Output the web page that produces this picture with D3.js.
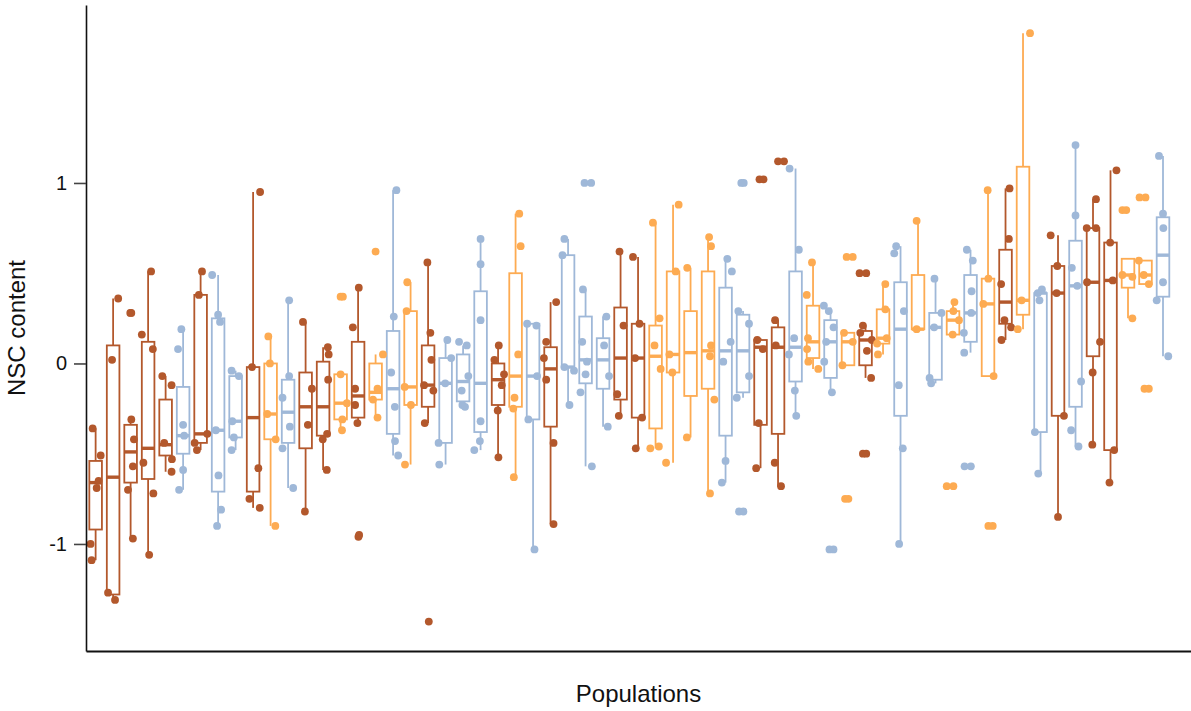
<!DOCTYPE html>
<html>
<head>
<meta charset="utf-8">
<script src="https://cdn.jsdelivr.net/npm/d3@7"></script>
<style>
  body { margin: 0; background: #fff; }
  text { font-family: "Liberation Sans", Arial, sans-serif; }
</style>
</head>
<body>
<div class="chart-wrapper"></div>
<script>
// population groups, ordered by median (B = brown, O = orange, L = light blue)
const groups = ["B","B","B","B","B","L","B","L","L","B","O","L","B","B","O","B","O","L","O","B","L",
  "L","L","B","O","L","B","L","L","L","B","B","O","O","O","O","L","L","B","B","L","O",
  "L","O","B","O","L","O","L","O","L","O","B","O","L","B","L","B","B","O","O","L"];

const lows = [-1.09,-1.30,-0.97,-1.06,-0.60,-0.70,-0.48,-0.90,-0.48,-0.80,-0.90,-0.69,-0.82,-0.59,-0.37,-0.33,-0.30,-0.51,-0.56,-0.33,-0.56,
  -0.24,-0.48,-0.52,-0.63,-1.03,-0.89,-0.23,-0.57,-0.35,-0.29,-0.47,-0.47,-0.55,-0.41,-0.72,-0.66,-0.19,-0.58,-0.68,-0.29,-0.03,
  -0.16,-0.01,-0.08,0.05,-1.00,0.19,-0.11,0.16,0.06,-0.07,0.13,0.19,-0.61,-0.85,-0.46,-0.45,-0.66,0.25,0.44,0.04];

const q1s = [-0.92,-1.28,-0.66,-0.64,-0.51,-0.50,-0.44,-0.71,-0.41,-0.71,-0.42,-0.44,-0.47,-0.40,-0.31,-0.30,-0.20,-0.39,-0.23,-0.24,-0.44,
  -0.21,-0.38,-0.23,-0.24,-0.31,-0.35,-0.02,-0.11,-0.14,-0.20,-0.30,-0.36,-0.05,-0.18,-0.14,-0.40,-0.16,-0.34,-0.39,-0.10,0.03,
  -0.08,-0.01,-0.01,0.11,-0.29,0.19,-0.09,0.16,0.12,-0.07,0.22,0.27,-0.38,-0.29,-0.24,0.04,-0.48,0.42,0.44,0.37];

const medians = [-0.66,-0.63,-0.49,-0.47,-0.45,-0.40,-0.39,-0.37,-0.32,-0.30,-0.28,-0.27,-0.24,-0.24,-0.22,-0.18,-0.16,-0.14,-0.13,-0.12,-0.11,
  -0.10,-0.11,-0.09,-0.07,-0.07,-0.03,-0.02,0.02,0.02,0.03,0.03,0.04,0.05,0.06,0.07,0.07,0.07,0.09,0.09,0.09,0.12,
  0.12,0.12,0.13,0.14,0.19,0.19,0.20,0.24,0.28,0.33,0.34,0.35,0.39,0.39,0.43,0.45,0.46,0.49,0.49,0.60];

const q3s = [-0.54,0.10,-0.34,0.12,-0.20,-0.13,0.38,0.25,-0.07,-0.02,0.00,-0.09,-0.05,0.01,-0.06,0.12,0.00,0.18,0.29,0.10,0.03,
  0.05,0.40,0.00,0.50,0.22,0.09,0.60,0.26,0.14,0.31,0.22,0.21,0.51,0.29,0.51,0.42,0.27,0.13,0.20,0.51,0.32,
  0.24,0.17,0.18,0.30,0.45,0.49,0.28,0.29,0.49,0.47,0.63,1.09,0.39,0.54,0.68,0.75,0.67,0.58,0.57,0.81];

const highs = [-0.36,0.36,-0.31,0.51,-0.07,0.19,0.51,0.49,-0.04,0.95,0.15,0.35,0.23,0.09,-0.06,0.42,0.05,0.96,0.45,0.56,0.13,
  0.10,0.69,0.10,0.83,0.22,0.34,0.69,0.41,0.26,0.62,0.59,0.78,0.88,0.53,0.70,0.58,0.29,0.14,0.24,1.08,0.56,
  0.31,0.17,0.21,0.44,0.65,0.79,0.47,0.34,0.63,0.96,0.97,1.83,0.41,0.71,1.21,0.91,1.07,0.58,0.57,1.15];

// individual observations per population: [jitter (category units), NSC value]
const points = [
  [[-0.17,-0.36],[0.29,-0.51],[0.17,-0.65],[0.06,-0.69],[-0.29,-1.0],[-0.23,-1.09]],
  [[0.29,0.36],[-0.06,0.02],[-0.29,-1.27],[0.11,-1.31]],
  [[-0.02,0.28],[0.04,0.28],[0.04,-0.31],[0.19,-0.42],[0.13,-0.57],[-0.15,-0.70],[0.13,-0.97]],
  [[0.17,0.51],[-0.36,0.16],[0.27,0.08],[-0.27,-0.55],[0.30,-0.72],[0.06,-1.06]],
  [[-0.19,-0.07],[0.34,-0.12],[-0.08,-0.44],[0.36,-0.53],[0.34,-0.60]],
  [[-0.1,0.19],[-0.29,0.08],[0,-0.34],[0.06,-0.40],[0,-0.59],[-0.23,-0.70]],
  [[0.08,0.51],[-0.1,0.38],[0.38,-0.39],[-0.34,-0.44],[-0.21,-0.48]],
  [[-0.34,0.49],[0,0.27],[0.11,0.23],[-0.13,-0.37],[0.02,-0.62],[0.17,-0.81],[-0.06,-0.90]],
  [[-0.23,-0.04],[0.19,-0.07],[-0.19,-0.32],[-0.1,-0.41],[-0.23,-0.48]],
  [[0.4,0.95],[-0.06,-0.02],[0.3,-0.58],[-0.21,-0.75],[0.38,-0.80]],
  [[-0.13,0.15],[-0.04,0.0],[-0.19,-0.28],[0.29,-0.42],[0.27,-0.90]],
  [[0.06,0.35],[0.06,-0.07],[-0.32,-0.19],[0.1,-0.35],[-0.32,-0.47],[0.29,-0.69]],
  [[-0.15,0.23],[0.36,-0.14],[0.13,-0.34],[-0.04,-0.82]],
  [[0.27,0.09],[0.32,0.05],[0.29,-0.09],[0.23,-0.39],[-0.02,-0.42],[0.21,-0.59]],
  [[0,0.37],[0.13,0.37],[0,-0.06],[0.36,-0.22],[0.1,-0.31],[0.08,-0.37]],
  [[0.04,0.42],[-0.3,0.20],[-0.17,-0.14],[-0.17,-0.23],[-0.04,-0.33],[0.02,-0.96],[0.06,-0.95]],
  [[0,0.62],[0.42,0.05],[0.11,-0.14],[-0.15,-0.20],[0.11,-0.30]],
  [[0.19,0.96],[0.04,0.26],[-0.11,-0.05],[0.1,-0.24],[0.11,-0.43],[0.29,-0.51]],
  [[-0.19,0.45],[-0.23,0.29],[-0.34,-0.13],[0.02,-0.23],[-0.32,-0.56]],
  [[-0.04,0.56],[0.13,0.17],[0.19,0.02],[-0.23,-0.12],[0.3,-0.15],[-0.19,-0.33],[0.04,-1.43]],
  [[0.1,0.13],[0.32,0.03],[-0.02,-0.11],[-0.4,-0.44],[-0.36,-0.56]],
  [[-0.23,0.12],[0.21,0.10],[0.3,-0.07],[-0.08,-0.15],[-0.04,-0.23],[0.11,-0.24]],
  [[0,0.69],[0,0.55],[0,0.24],[0,-0.32],[-0.04,-0.43],[-0.36,-0.48]],
  [[0.04,0.10],[-0.21,0.02],[0.34,-0.06],[0.21,-0.12],[-0.02,-0.26],[0.02,-0.52]],
  [[0.21,0.83],[0.29,0.65],[0.15,0.05],[-0.06,-0.19],[-0.13,-0.25],[-0.1,-0.63]],
  [[-0.34,0.22],[0.19,0.21],[0.23,-0.07],[-0.27,-0.31],[0.08,-1.03]],
  [[0.32,0.34],[-0.25,0.12],[-0.38,0.03],[-0.25,-0.09],[0.17,-0.44],[0.17,-0.89]],
  [[-0.21,0.69],[-0.32,0.60],[-0.21,-0.02],[0.34,-0.04],[0.08,-0.23]],
  [[-0.06,1.0],[0.32,1.0],[-0.15,0.41],[-0.19,0.12],[0.08,0.01],[0,-0.06],[-0.29,-0.16],[0.36,-0.57]],
  [[0.19,0.26],[0.06,0.10],[0.34,-0.07],[0.27,-0.35]],
  [[-0.06,0.62],[0.17,0.21],[-0.19,-0.17],[-0.1,-0.29]],
  [[-0.29,0.59],[0.08,0.22],[-0.17,0.03],[0.23,-0.30],[-0.13,-0.47]],
  [[-0.15,0.78],[0.23,0.25],[-0.06,0.10],[0.29,-0.03],[-0.3,-0.47],[0.19,-0.46]],
  [[0.32,0.88],[0.15,0.51],[-0.21,0.05],[-0.04,-0.05],[-0.4,-0.55]],
  [[-0.19,0.53],[-0.21,-0.41]],
  [[0.06,0.70],[0.17,0.65],[0.17,0.10],[0.11,0.04],[0.36,-0.20],[0.11,-0.72]],
  [[0.1,0.58],[0.36,0.51],[0.29,0.12],[-0.13,0.01],[0,-0.54],[-0.21,-0.66]],
  [[-0.1,1.0],[0.04,1.0],[-0.27,0.29],[0.34,0.22],[0.34,-0.07],[-0.36,-0.19],[-0.23,-0.82],[0.02,-0.82]],
  [[-0.06,1.02],[0.17,1.02],[-0.19,0.13],[0.13,0.08],[-0.1,-0.33],[-0.25,-0.58]],
  [[0,1.12],[0.34,1.12],[-0.17,0.24],[-0.13,0.10],[-0.19,-0.55],[0.17,-0.68]],
  [[-0.34,1.08],[0.19,0.63],[-0.08,0.14],[-0.38,0.05],[-0.04,-0.15],[0.04,-0.29]],
  [[-0.06,0.56],[-0.36,0.38],[-0.29,0.14],[-0.34,0.08],[-0.27,0.01],[0.3,-0.03]],
  [[-0.38,0.32],[-0.1,0.29],[0.17,0.20],[-0.25,0.12],[-0.36,0.01],[0.08,-0.16],[-0.06,-1.03],[0.17,-1.03]],
  [[-0.23,0.17],[0.27,0.12],[-0.32,-0.01],[-0.08,0.59],[0.27,0.59],[-0.17,-0.75],[0.02,-0.75]],
  [[-0.15,0.21],[-0.3,0.17],[0.36,0.13],[0.08,0.07],[0.32,-0.08],[-0.34,0.50],[0.04,0.50],[-0.15,-0.50],[0.04,-0.50]],
  [[0.13,0.44],[0.13,0.30],[0.21,0.14],[-0.34,0.11],[-0.29,0.05]],
  [[-0.25,0.65],[-0.36,0.61],[0.19,0.29],[-0.1,-0.12],[0.13,-0.47],[-0.08,-1.00]],
  [[-0.08,0.79],[-0.08,0.19]],
  [[-0.06,0.47],[0.34,0.28],[-0.08,0.20],[-0.34,-0.08],[-0.25,-0.11]],
  [[0.08,0.34],[0.02,0.29],[0.34,0.24],[-0.02,0.16],[-0.36,-0.68],[0.02,-0.68]],
  [[-0.21,0.63],[0.13,0.57],[0.06,0.40],[0.04,0.28],[-0.38,0.17],[-0.36,0.06],[-0.34,-0.57],[0.02,-0.57]],
  [[-0.02,0.96],[0.02,0.47],[-0.27,0.33],[0.32,-0.07],[0.02,-0.90],[0.27,-0.90]],
  [[0.23,0.97],[0.19,0.69],[-0.25,0.44],[-0.06,0.24],[0.32,0.20],[-0.23,0.13]],
  [[0.4,1.83],[-0.08,0.35],[-0.3,0.19]],
  [[-0.15,0.39],[0.08,0.41],[-0.06,0.35],[-0.32,-0.38],[-0.13,-0.61]],
  [[-0.42,0.71],[-0.04,0.54],[-0.08,0.39],[0.34,-0.29],[0,-0.85]],
  [[0,1.21],[0,0.82],[-0.21,0.53],[0.1,0.43],[0.32,-0.10],[-0.25,-0.37],[0.17,-0.46]],
  [[0.17,0.91],[-0.36,0.75],[0.17,0.75],[-0.34,0.45],[0.4,0.12],[-0.02,-0.05],[-0.04,-0.45]],
  [[0.34,1.07],[-0.02,0.67],[0.13,0.46],[0.21,-0.48],[-0.06,-0.66]],
  [[-0.32,0.49],[0.25,0.48],[0.25,0.25],[-0.32,0.85],[-0.1,0.85]],
  [[-0.38,0.57],[-0.1,0.49],[0.19,0.44],[-0.34,0.92],[0,0.92],[-0.06,-0.14],[0.19,-0.14]],
  [[-0.23,1.15],[0,0.83],[0.02,0.75],[0,0.45],[-0.36,0.35],[0.3,0.04]]
];

const yTicks = [-1, 0, 1];

const colour = d3.scaleOrdinal()
  .domain(["B", "O", "L"])
  .range(["#b3582c", "#fdab52", "#9fb8d8"]);

const width = 1191, height = 711;
const margin = {top: 5, right: 0, bottom: 60, left: 86};

const boxes = groups.map((g, i) => ({
  i: i, group: g, lo: lows[i], q1: q1s[i], med: medians[i], q3: q3s[i], hi: highs[i], pts: points[i]
}));

const x = d3.scaleLinear()
  .domain([-0.55, 62.6])
  .range([margin.left, width - margin.right]);

const y = d3.scaleLinear()
  .domain([-1.593, 1.986])
  .range([height - margin.bottom, margin.top]);

const boxW = 0.72;

const svg = d3.select('.chart-wrapper')
  .append('svg')
  .attr('width', width)
  .attr('height', height);

svg.append('rect')
  .attr('width', width)
  .attr('height', height)
  .attr('fill', '#fff');

const boxG = svg.append('g')
  .selectAll('g')
  .data(boxes)
  .enter()
  .append('g')
  .attr('stroke', d => colour(d.group))
  .attr('fill', 'none');

// whiskers
boxG.append('line')
  .attr('x1', d => x(d.i)).attr('x2', d => x(d.i))
  .attr('y1', d => y(d.q3)).attr('y2', d => y(d.hi))
  .attr('stroke-width', 1.8);

boxG.append('line')
  .attr('x1', d => x(d.i)).attr('x2', d => x(d.i))
  .attr('y1', d => y(d.q1)).attr('y2', d => y(d.lo))
  .attr('stroke-width', 1.8);

// boxes
boxG.append('rect')
  .attr('x', d => x(d.i - boxW / 2))
  .attr('width', d => x(d.i + boxW / 2) - x(d.i - boxW / 2))
  .attr('y', d => y(d.q3))
  .attr('height', d => Math.max(0.5, y(d.q1) - y(d.q3)))
  .attr('stroke-width', 1.8);

// medians
boxG.append('line')
  .attr('x1', d => x(d.i - boxW / 2)).attr('x2', d => x(d.i + boxW / 2))
  .attr('y1', d => y(d.med)).attr('y2', d => y(d.med))
  .attr('stroke-width', 3.4);

// jittered observations
svg.append('g')
  .selectAll('circle')
  .data(boxes.flatMap(b => b.pts.map(p => ({i: b.i, group: b.group, dx: p[0], v: p[1]}))))
  .enter()
  .append('circle')
  .attr('cx', d => x(d.i + d.dx))
  .attr('cy', d => y(d.v))
  .attr('r', 3.9)
  .attr('fill', d => colour(d.group));

// axes
const yAxis = svg.append('g')
  .attr('transform', `translate(${margin.left},0)`)
  .call(d3.axisLeft(y).tickValues(yTicks).tickFormat(d => String(d))
    .tickSize(12).tickPadding(7).tickSizeOuter(0));

yAxis.select('.domain').attr('stroke', '#111').attr('stroke-width', 1.6);
yAxis.selectAll('.tick line').attr('stroke', '#444').attr('stroke-width', 1.6);
yAxis.selectAll('.tick text')
  .attr('fill', '#111')
  .style('font-size', '20px')
  .style('font-family', '"Liberation Sans", Arial, sans-serif');

const xAxis = svg.append('g')
  .attr('transform', `translate(0,${height - margin.bottom})`)
  .call(d3.axisBottom(x).tickValues([]).tickSizeOuter(0));

xAxis.select('.domain').attr('stroke', '#111').attr('stroke-width', 1.8);

svg.append('text')
  .attr('x', (margin.left + width) / 2)
  .attr('y', 702)
  .attr('text-anchor', 'middle')
  .style('font-size', '24px')
  .attr('fill', '#111')
  .text('Populations');

svg.append('text')
  .attr('transform', `translate(25,${(margin.top + height - margin.bottom) / 2}) rotate(-90)`)
  .attr('text-anchor', 'middle')
  .style('font-size', '24px')
  .attr('fill', '#111')
  .text('NSC content');
</script>
</body>
</html>
